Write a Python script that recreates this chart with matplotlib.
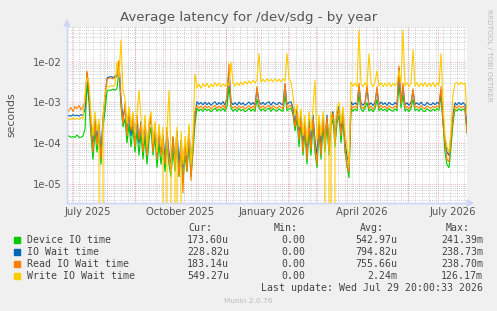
import matplotlib
matplotlib.use('Agg')
import matplotlib.pyplot as plt
import datetime as dt

# ---------------- data (seconds), one point every 2 days ----------------
start_time = dt.datetime(2025, 6, 24, 20, 0, 33)
end_time = dt.datetime(2026, 7, 29, 20, 0, 33)
step_days = 2

device_io = (
    [1.5e-4, 1.5e-4, 1.4e-4, 1.45e-4, 1.4e-4, 1.6e-4, 1.4e-4, 1.4e-4, 1.5e-4, 2.2e-4]
    + [3.0e-3, 1.0e-3]
    + [1.5e-4, 4e-5, 2e-4, 6e-5, 1.5e-4, 3e-5, 2.5e-4, 6e-4]
    + [1.9e-3, 2.0e-3, 2.0e-3, 2.1e-3, 2.0e-3, 2.2e-3, 6e-3]
    + [8e-4, 2.5e-4]
    + [4e-4, 1e-4, 3e-4, 8e-5, 2.5e-4, 6e-5, 2e-4, 5e-5, 1.8e-4, 4e-5,
       1.5e-4, 3e-5, 1.2e-4, 2.5e-4, 5e-5, 1.5e-4, 2.5e-5, 1e-4, 3e-5, 8e-5,
       2e-5, 9e-5, 3e-5, 1.5e-5, 7e-5, 2e-5, 1e-4, 1.5e-5, 6e-5, 1.2e-5,
       5e-5, 2e-5, 1e-4, 1.5e-5, 6e-5]
    + [3e-4]
    + [7.2e-4, 6.2e-4, 6.9e-4, 6.0e-4, 7.1e-4, 6.3e-4, 6.8e-4, 5.9e-4, 6.6e-4, 7.3e-4,
       6.1e-4, 6.9e-4, 6.2e-4, 7.2e-4, 6.0e-4, 8e-4, 2.5e-3, 7.2e-4, 6.1e-4, 6.9e-4,
       6.0e-4, 7.1e-4, 6.3e-4, 6.8e-4, 5.9e-4, 6.4e-4, 7.2e-4, 6.1e-4, 6.9e-4, 6.0e-4,
       1.2e-3, 7.3e-4, 6.2e-4, 7.0e-4, 6.1e-4, 6.8e-4, 7.3e-4, 6.0e-4, 7.1e-4, 6.5e-4,
       6.1e-4, 7.0e-4, 6.4e-4, 6.0e-4, 1.5e-3, 6.2e-4, 6.9e-4, 7.3e-4, 5e-4, 2e-4]
    + [4e-4, 8e-5, 3e-4, 5e-5, 2e-4, 3e-5, 2e-4, 5e-5, 3e-4, 6e-5,
       2.5e-5, 2e-4, 4e-5, 2.5e-4, 6e-5, 3e-4, 5e-5, 2.5e-4, 4e-4, 8e-5,
       3e-4, 5e-4, 1e-4, 4e-4, 6e-5, 3e-5, 1.4e-5]
    + [7.2e-4, 6.1e-4, 6.9e-4, 6.2e-4, 1.5e-3, 6.8e-4, 6.0e-4, 7.1e-4, 1.0e-3,
       6.1e-4, 6.9e-4, 5.9e-4, 7.0e-4, 1.2e-3, 6.2e-4, 7.2e-4, 6.3e-4, 6.9e-4, 6.0e-4, 7.1e-4,
       6.4e-4, 6.1e-4, 7.0e-4, 6.2e-4, 3e-3, 7.2e-4, 1.5e-3, 6.1e-4, 6.9e-4, 6.0e-4, 7.0e-4,
       1.2e-3, 6.3e-4, 6.9e-4, 6.1e-4, 7.2e-4, 6.2e-4, 6.0e-4, 7.0e-4, 6.4e-4,
       6.1e-4, 6.9e-4, 6.2e-4, 7.1e-4, 6.4e-4]
    + [1.5e-3, 3e-4]
    + [6e-5, 3e-5, 2.5e-5, 8e-5, 3e-4]
    + [6.8e-4, 6.2e-4, 7.0e-4, 6.3e-4, 6.9e-4, 6.5e-4]
    + [1.736e-4]
)

io_wait = (
    [4.5e-4, 4.8e-4, 4.6e-4, 5e-4, 4.7e-4, 4.9e-4, 4.6e-4, 5e-4, 4.8e-4, 7e-4]
    + [5.5e-3, 1.5e-3]
    + [3e-4, 8e-5, 4e-4, 1.2e-4, 3e-4, 6e-5, 4e-4, 1.2e-3]
    + [4.0e-3, 4.2e-3, 4.3e-3, 4.1e-3, 4.4e-3, 4.5e-3, 9e-3]
    + [1.2e-3, 4e-4]
    + [8e-4, 2e-4, 6e-4, 1.5e-4, 5e-4, 1.2e-4, 4e-4, 1e-4, 3.5e-4, 8e-5,
       3e-4, 6e-5, 2.5e-4, 4e-4, 9e-5, 2.5e-4, 5e-5, 2e-4, 6e-5, 1.6e-4,
       4e-5, 1.8e-4, 6e-5, 3e-5, 1.4e-4, 4e-5, 2e-4, 3e-5, 1.2e-4, 2.5e-5,
       1e-4, 4e-5, 2e-4, 3e-5, 1.2e-4]
    + [5e-4]
    + [1.05e-3, 9.0e-4, 1.0e-3, 8.7e-4, 1.02e-3, 8.8e-4, 9.9e-4, 8.5e-4, 9.6e-4, 1.04e-3,
       8.7e-4, 1.0e-3, 8.9e-4, 1.05e-3, 8.6e-4, 1.3e-3, 6e-3, 1.03e-3, 8.8e-4, 9.9e-4,
       8.6e-4, 1.02e-3, 8.9e-4, 9.8e-4, 8.5e-4, 9.3e-4, 1.03e-3, 8.8e-4, 1.0e-3, 8.6e-4,
       2.2e-3, 1.05e-3, 8.9e-4, 1.01e-3, 8.8e-4, 9.8e-4, 1.04e-3, 8.6e-4, 1.02e-3, 9.4e-4,
       8.8e-4, 1.01e-3, 9.2e-4, 8.7e-4, 2.8e-3, 8.9e-4, 9.9e-4, 1.04e-3, 7e-4, 3e-4]
    + [7e-4, 1.5e-4, 5e-4, 9e-5, 3.5e-4, 6e-5, 4e-4, 1e-4, 5e-4, 1.2e-4,
       5e-5, 3.5e-4, 8e-5, 4.5e-4, 1.2e-4, 5e-4, 9e-5, 4e-4, 6e-4, 1.5e-4,
       5e-4, 8e-4, 2e-4, 6e-4, 1e-4, 5e-5, 3e-5]
    + [1.04e-3, 8.7e-4, 9.8e-4, 8.8e-4, 2.5e-3, 9.7e-4, 8.5e-4, 1.0e-3, 2.2e-3,
       8.6e-4, 9.8e-4, 8.4e-4, 1.0e-3, 2.2e-3, 8.8e-4, 1.03e-3, 8.9e-4, 9.8e-4, 8.5e-4, 1.01e-3,
       9.1e-4, 8.7e-4, 1.0e-3, 8.8e-4, 7e-3, 1.0e-3, 2.5e-3, 8.7e-4, 9.8e-4, 8.5e-4, 1.0e-3,
       2e-3, 8.9e-4, 9.8e-4, 8.7e-4, 1.02e-3, 8.8e-4, 8.5e-4, 1.0e-3, 9.1e-4,
       8.7e-4, 9.8e-4, 8.8e-4, 1.01e-3, 9.1e-4]
    + [2e-3, 4e-4]
    + [1.2e-4, 6e-5, 5e-5, 1.5e-4, 5e-4]
    + [9.8e-4, 8.7e-4, 1.0e-3, 8.8e-4, 9.9e-4, 8.9e-4]
    + [2.288e-4]
)

read_io_wait = (
    [5.5e-4, 6.5e-4, 7.5e-4, 6e-4, 8e-4, 7e-4, 8.5e-4, 6.5e-4, 8e-4, 1.0e-3]
    + [6e-3, 2e-3]
    + [2.5e-4, 6e-5, 3.5e-4, 9e-5, 2.5e-4, 4e-5, 3.5e-4, 1.5e-3]
    + [3.8e-3, 3.9e-3, 4.0e-3, 3.8e-3, 4.1e-3, 4.2e-3, 1.1e-2]
    + [1.0e-3, 3e-4]
    + [1e-3, 1.5e-4, 7e-4, 2e-4, 4e-4, 8e-5, 5e-4, 1.2e-4, 3e-4, 6e-5,
       4e-4, 5e-5, 2e-4, 5e-4, 6e-5, 3e-4, 4e-5, 2.5e-4, 5e-5, 1.2e-4,
       3e-5, 2.5e-4, 4e-5, 2e-5, 1.5e-4, 2.5e-5, 1.5e-4, 1.5e-5, 1e-4, 6e-6,
       1.2e-4, 2e-5, 2.5e-4, 1.2e-5, 8e-5]
    + [6e-4]
    + [8.4e-4, 7.2e-4, 8.2e-4, 7.0e-4, 8.3e-4, 7.3e-4, 8.1e-4, 6.9e-4, 7.8e-4, 8.5e-4,
       7.1e-4, 8.2e-4, 7.2e-4, 8.6e-4, 7.0e-4, 1.5e-3, 9e-3, 8.5e-4, 7.2e-4, 8.1e-4,
       7.0e-4, 8.3e-4, 7.3e-4, 8.0e-4, 6.9e-4, 7.5e-4, 8.4e-4, 7.1e-4, 8.2e-4, 7.0e-4,
       2.5e-3, 8.6e-4, 7.2e-4, 8.3e-4, 7.1e-4, 8.0e-4, 8.5e-4, 7.0e-4, 8.3e-4, 7.6e-4,
       7.1e-4, 8.2e-4, 7.5e-4, 7.0e-4, 3e-3, 7.2e-4, 8.1e-4, 8.5e-4, 6e-4, 2.5e-4]
    + [6e-4, 1.2e-4, 4e-4, 6e-5, 3e-4, 4e-5, 3e-4, 7e-5, 4e-4, 9e-5,
       3e-5, 3e-4, 5e-5, 4e-4, 8e-5, 4.5e-4, 6e-5, 3.5e-4, 5.5e-4, 1e-4,
       4.5e-4, 7e-4, 1.5e-4, 5.5e-4, 8e-5, 2.5e-5, 2e-5]
    + [8.6e-4, 7.2e-4, 8.1e-4, 7.3e-4, 3e-3, 8.0e-4, 7.0e-4, 8.3e-4, 2.8e-3,
       7.1e-4, 8.1e-4, 6.9e-4, 8.2e-4, 2.5e-3, 7.3e-4, 8.5e-4, 7.4e-4, 8.1e-4, 7.0e-4, 8.3e-4,
       7.5e-4, 7.2e-4, 8.2e-4, 7.3e-4, 8e-3, 9e-4, 3e-3, 7.2e-4, 8.1e-4, 7.0e-4, 8.2e-4,
       2.2e-3, 7.4e-4, 8.1e-4, 7.2e-4, 8.4e-4, 7.3e-4, 7.0e-4, 8.2e-4, 7.5e-4,
       7.2e-4, 8.1e-4, 7.3e-4, 8.3e-4, 7.5e-4]
    + [2.5e-3, 3e-4]
    + [1e-4, 4e-5, 3.5e-5, 1.2e-4, 4e-4]
    + [8.2e-4, 7.2e-4, 8.3e-4, 7.3e-4, 8.1e-4, 7.4e-4]
    + [1.831e-4]
)

write_io_wait = (
    [3.5e-4, 4e-4, 3.8e-4, 4.2e-4, 3.9e-4, 4.1e-4, 3.8e-4, 4.3e-4, 4e-4, 1.5e-3]
    + [4e-3, 3e-3]
    + [5e-4, 1.5e-4, 6e-4, 2e-4, 4e-4, 0.0, 5e-4, 1.5e-3]
    + [2.5e-3, 2.4e-3, 2.6e-3, 2.5e-3, 2.7e-3, 1e-2, 4e-3]
    + [3.5e-2, 2e-3]
    + [1.2e-3, 3e-4, 8e-4, 2.5e-4, 6e-4, 1.5e-4, 5e-4, 2e-3, 4e-4, 1e-4,
       5e-4, 8e-5, 3.5e-4, 6e-4, 1e-4, 3.5e-4, 6e-5, 3e-4, 8e-5, 2.5e-4,
       0.0, 2e-4, 2e-3, 5e-5, 0.0, 6e-5, 2.5e-4, 0.0, 2e-4, 3e-5,
       1.5e-4, 5e-5, 3e-4, 3e-5, 1.5e-4]
    + [5e-3]
    + [2.3e-3, 2.8e-3, 2.2e-3, 2.9e-3, 2.4e-3, 3.0e-3, 2.3e-3, 2.8e-3, 2.4e-3, 3.1e-3,
       2.5e-3, 3.0e-3, 2.4e-3, 2.9e-3, 2.5e-3, 3.0e-3, 2.6e-3, 1e-2, 3.1e-3, 2.5e-3,
       3.1e-3, 2.6e-3, 3.2e-3, 2.7e-3, 3.3e-3, 2.8e-3, 3.4e-3, 2.9e-3, 3.5e-3, 3.0e-3,
       3.6e-3, 1.6e-2, 3.1e-3, 3.7e-3, 3.2e-3, 3.8e-3, 3.3e-3, 3.7e-3, 3.2e-3, 3.8e-3,
       3.3e-3, 3.7e-3, 3.2e-3, 3.8e-3, 3.3e-3, 1.6e-2, 3.7e-3, 3.2e-3, 1.5e-3, 5e-4]
    + [9e-4, 2.5e-4, 7e-4, 1.5e-4, 5e-4, 1e-4, 6e-4, 2e-4, 7e-4, 3.5e-3,
       1.2e-4, 5e-4, 1.5e-4, 6e-4, 2e-4, 0.0, 1.5e-4, 6e-4, 0.0, 3e-4,
       7e-4, 1e-3, 3e-4, 8e-4, 2e-4, 8e-5, 3e-5]
    + [3.2e-3, 2.5e-3, 3.0e-3, 2.4e-3, 6e-2, 2.9e-3, 2.4e-3, 3.1e-3, 2.5e-3, 1.6e-2,
       3.0e-3, 2.4e-3, 3.1e-3, 6e-3, 2.5e-3, 3.1e-3, 2.4e-3, 3.0e-3, 2.5e-3, 3.1e-3,
       2.4e-3, 3.0e-3, 2.5e-3, 3.1e-3, 6e-3, 2.9e-3, 6e-2, 2.5e-3, 3.1e-3, 2.4e-3,
       3.0e-3, 2e-2, 2.5e-3, 3.1e-3, 2.4e-3, 3.0e-3, 2.5e-3, 3.1e-3, 2.4e-3, 3.0e-3,
       2.5e-3, 3.1e-3, 2.4e-3, 3.0e-3, 2.6e-3]
    + [1.6e-2, 1e-3]
    + [1.5e-4, 8e-5, 6e-5, 2e-4, 1.5e-3]
    + [2.9e-3, 3.1e-3, 2.7e-3, 3.1e-3, 2.8e-3, 3.0e-3]
    + [5.493e-4]
)

series_names = ["Device IO time", "IO Wait time", "Read IO Wait time", "Write IO Wait time"]
series_values = [device_io, io_wait, read_io_wait, write_io_wait]
series_colors = ["#00CC00", "#0066B3", "#FF8000", "#FFCC00"]

cur_vals = ["173.60u", "228.82u", "183.14u", "549.27u"]
min_vals = ["0.00", "0.00", "0.00", "0.00"]
avg_vals = ["542.97u", "794.82u", "755.66u", "2.24m"]
max_vals = ["241.39m", "238.73m", "238.70m", "126.17m"]

x_tick_dates = [dt.datetime(2025, 7, 16), dt.datetime(2025, 10, 16), dt.datetime(2026, 1, 16),
                dt.datetime(2026, 4, 16), dt.datetime(2026, 7, 16)]
x_tick_labels = ["July 2025", "October 2025", "January 2026", "April 2026", "July 2026"]
y_ticks = [1e-5, 1e-4, 1e-3, 1e-2]
y_tick_labels = ["1e-05", "1e-04", "1e-03", "1e-02"]

title = "Average latency for /dev/sdg - by year"
last_update = "Last update: Wed Jul 29 20:00:33 2026"

# ---------------- figure ----------------
W, H = 497, 311
BG = "#F0F0F0"
FONT_COL = "#555555"
fig = plt.figure(figsize=(W / 100, H / 100), dpi=100, facecolor=BG)


def rect(x0, y0, x1, y1):
    return [x0 / W, 1 - y1 / H, (x1 - x0) / W, (y1 - y0) / H]


ax = fig.add_axes(rect(67, 27, 467, 203))
ax.set_facecolor("white")
ax.set_yscale("log")
ax.set_xlim(start_time, end_time)
ax.set_ylim(3.42e-6, 7.08e-2)

# grid: minor (grey) then major (red)
minor_col = (0.56, 0.56, 0.56, 0.55)
major_col = (0.87, 0.31, 0.31, 0.55)
dots = (0, (1, 1.5))
d = dt.datetime(2025, 6, 30)
while d < end_time:
    ax.axvline(d, color=minor_col, lw=0.6, ls=dots, zorder=1)
    d += dt.timedelta(days=7)
for e in range(-6, -1):
    for k in range(2, 10):
        ax.axhline(k * 10.0 ** e, color=minor_col, lw=0.6, ls=dots, zorder=1)
for yv in y_ticks:
    ax.axhline(yv, color=major_col, lw=0.6, ls=dots, zorder=2)
for yr, mo in [(2025, m) for m in range(7, 13)] + [(2026, m) for m in range(1, 8)]:
    ax.axvline(dt.datetime(yr, mo, 1), color=major_col, lw=0.6, ls=dots, zorder=2)

# data lines
for vals, col in zip(series_values, series_colors):
    xs = [start_time + dt.timedelta(days=step_days * i) for i in range(len(vals))]
    ax.plot(xs, vals, color=col, lw=0.8, zorder=3, solid_joinstyle="miter")

# axes styling
for s in ["top", "right"]:
    ax.spines[s].set_visible(False)
AXIS_COL = "#CFD6F8"
ax.spines["left"].set_color(AXIS_COL)
ax.spines["bottom"].set_color(AXIS_COL)
ax.spines["left"].set_linewidth(1.0)
ax.spines["bottom"].set_linewidth(1.0)
ax.set_xticks(x_tick_dates)
ax.set_xticklabels(x_tick_labels)
ax.set_yticks(y_ticks)
ax.set_yticklabels(y_tick_labels)
ax.minorticks_off()
ax.tick_params(axis="both", length=0, labelsize=7.2, colors=FONT_COL, pad=4)
ax.tick_params(axis="x", pad=3)

# arrows at axis ends
fig.patches.append(plt.Polygon([[64 / W, 1 - 26 / H], [70 / W, 1 - 26 / H], [67 / W, 1 - 20 / H]],
                               closed=True, color=AXIS_COL, transform=fig.transFigure))
fig.patches.append(plt.Polygon([[467 / W, 1 - 200 / H], [467 / W, 1 - 206 / H], [473 / W, 1 - 203 / H]],
                               closed=True, color=AXIS_COL, transform=fig.transFigure))
fig.add_artist(plt.Line2D([67 / W, 67 / W], [1 - 203 / H, 1 - 24 / H], color=AXIS_COL, lw=1.0))
fig.add_artist(plt.Line2D([67 / W, 470 / W], [1 - 203 / H, 1 - 203 / H], color=AXIS_COL, lw=1.0))

# texts
fig.text(249 / W, 1 - 18 / H, title, ha="center", va="center", fontsize=9.6, color=FONT_COL)
fig.text(11 / W, 1 - 115 / H, "seconds", rotation=90, ha="center", va="center", fontsize=7.8, color=FONT_COL)
fig.text(489 / W, 1 - 55 / H, "RRDTOOL / TOBI OETIKER", rotation=270, ha="center", va="center",
         fontsize=5.2, color="#BBBBBB")

mono = "DejaVu Sans Mono"
lfs = 7.1
LEG_COL = "#444444"
hdr_y = 228
for txt, xr in [("Cur:", 212), ("Min:", 298), ("Avg:", 384), ("Max:", 470)]:
    fig.text(xr / W, 1 - hdr_y / H, txt, ha="right", va="center", fontsize=lfs, family=mono, color=LEG_COL)
row_y = [240, 252, 264, 276]
for i, name in enumerate(series_names):
    y = row_y[i]
    fig.patches.append(plt.Rectangle((14 / W, 1 - (y + 3) / H), 6 / W, 6 / H, color=series_colors[i],
                                     transform=fig.transFigure))
    fig.text(27 / W, 1 - y / H, name, ha="left", va="center", fontsize=lfs, family=mono, color=LEG_COL)
    for txt, xr in [(cur_vals[i], 229), (min_vals[i], 305), (avg_vals[i], 397), (max_vals[i], 483)]:
        fig.text(xr / W, 1 - y / H, txt, ha="right", va="center", fontsize=lfs, family=mono, color=LEG_COL)
fig.text(483 / W, 1 - 288 / H, last_update, ha="right", va="center", fontsize=lfs, family=mono, color=LEG_COL)
fig.text(248 / W, 1 - 301 / H, "Munin 2.0.76", ha="center", va="center", fontsize=5.3, color="#BBBBBB")

fig.savefig("out.png", dpi=100, facecolor=BG)
